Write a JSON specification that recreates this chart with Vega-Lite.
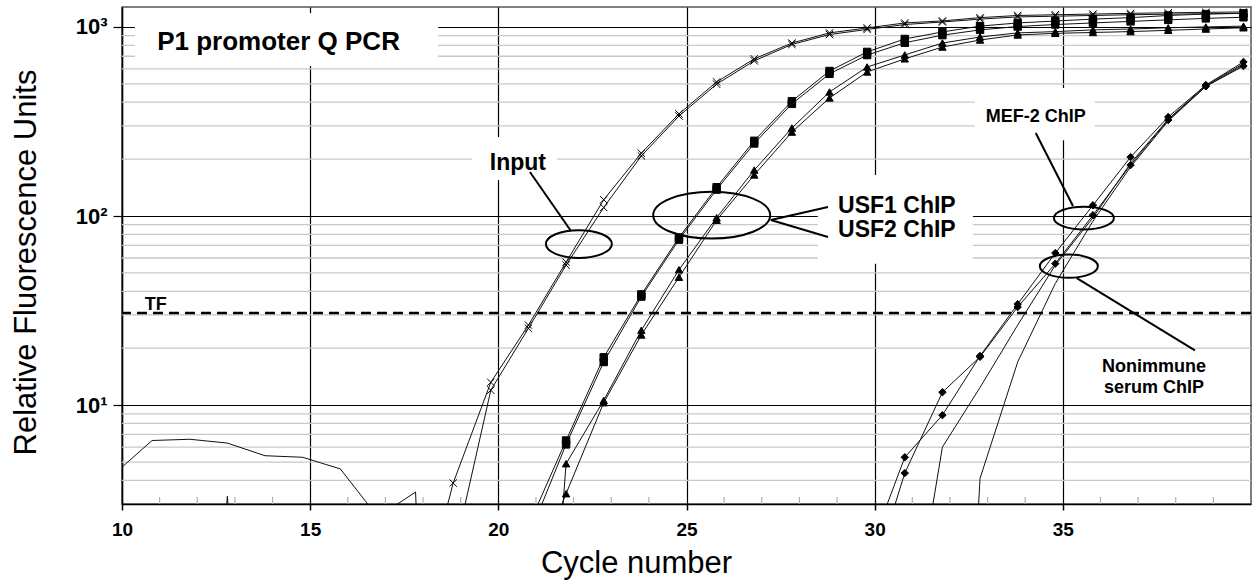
{
  "$schema": "https://vega.github.io/schema/vega-lite/v6.json",
  "width": 1129,
  "height": 497,
  "autosize": {"type": "none"},
  "padding": {"left": 122, "top": 7, "right": 1, "bottom": 78},
  "config": {
    "font": "Liberation Sans",
    "view": {"stroke": "#555", "strokeWidth": 1.5}
  },
  "datasets": {
    "ygrid": [{"v":4},{"v":5},{"v":6},{"v":7},{"v":8},{"v":9},{"v":20},{"v":30},{"v":40},{"v":50},{"v":60},{"v":70},{"v":80},{"v":90},{"v":200},{"v":300},{"v":400},{"v":500},{"v":600},{"v":700},{"v":800},{"v":900}],
    "xminor": [{"c":11},{"c":12},{"c":13},{"c":14},{"c":16},{"c":17},{"c":18},{"c":19},{"c":21},{"c":22},{"c":23},{"c":24},{"c":26},{"c":27},{"c":28},{"c":29},{"c":31},{"c":32},{"c":33},{"c":34},{"c":36},{"c":37},{"c":38},{"c":39}],
    "boxes": [{"x":10.345,"x2":18.4,"y":622,"y2":1186},{"x":19.3,"x2":21.56,"y":155,"y2":262},{"x":28.49,"x2":32.61,"y":56,"y2":165},{"x":32.66,"x2":35.85,"y":252,"y2":475}],
    "tf": [{"v": 30.7}],
    "curves": [
      {"s":"Input","r":"a","c":17.8,"v":0.66},{"s":"Input","r":"a","c":18.8,"v":3.87},{"s":"Input","r":"a","c":19.8,"v":13.2},{"s":"Input","r":"a","c":20.8,"v":26.5},{"s":"Input","r":"a","c":21.8,"v":57},{"s":"Input","r":"a","c":22.8,"v":122},{"s":"Input","r":"a","c":23.8,"v":215},{"s":"Input","r":"a","c":24.8,"v":347},{"s":"Input","r":"a","c":25.8,"v":512},{"s":"Input","r":"a","c":26.8,"v":678},{"s":"Input","r":"a","c":27.8,"v":822},{"s":"Input","r":"a","c":28.8,"v":930},{"s":"Input","r":"a","c":29.8,"v":988},{"s":"Input","r":"a","c":30.8,"v":1050},{"s":"Input","r":"a","c":31.8,"v":1076},{"s":"Input","r":"a","c":32.8,"v":1120},{"s":"Input","r":"a","c":33.8,"v":1150},{"s":"Input","r":"a","c":34.8,"v":1160},{"s":"Input","r":"a","c":35.8,"v":1170},{"s":"Input","r":"a","c":36.8,"v":1180},{"s":"Input","r":"a","c":37.8,"v":1188},{"s":"Input","r":"a","c":38.8,"v":1195},{"s":"Input","r":"a","c":39.8,"v":1200},
      {"s":"Input","r":"b","c":17.8,"v":0.3},{"s":"Input","r":"b","c":18.8,"v":1.57},{"s":"Input","r":"b","c":19.8,"v":12.0},{"s":"Input","r":"b","c":20.8,"v":25.5},{"s":"Input","r":"b","c":21.8,"v":55},{"s":"Input","r":"b","c":22.8,"v":111},{"s":"Input","r":"b","c":23.8,"v":208},{"s":"Input","r":"b","c":24.8,"v":338},{"s":"Input","r":"b","c":25.8,"v":498},{"s":"Input","r":"b","c":26.8,"v":662},{"s":"Input","r":"b","c":27.8,"v":808},{"s":"Input","r":"b","c":28.8,"v":912},{"s":"Input","r":"b","c":29.8,"v":970},{"s":"Input","r":"b","c":30.8,"v":1030},{"s":"Input","r":"b","c":31.8,"v":1062},{"s":"Input","r":"b","c":32.8,"v":1100},{"s":"Input","r":"b","c":33.8,"v":1130},{"s":"Input","r":"b","c":34.8,"v":1140},{"s":"Input","r":"b","c":35.8,"v":1150},{"s":"Input","r":"b","c":36.8,"v":1160},{"s":"Input","r":"b","c":37.8,"v":1168},{"s":"Input","r":"b","c":38.8,"v":1175},{"s":"Input","r":"b","c":39.8,"v":1180},
      {"s":"USF1","r":"a","c":20.8,"v":2.3},{"s":"USF1","r":"a","c":21.8,"v":6.5},{"s":"USF1","r":"a","c":22.8,"v":17.9},{"s":"USF1","r":"a","c":23.8,"v":38.5},{"s":"USF1","r":"a","c":24.8,"v":77},{"s":"USF1","r":"a","c":25.8,"v":142},{"s":"USF1","r":"a","c":26.8,"v":250},{"s":"USF1","r":"a","c":27.8,"v":405},{"s":"USF1","r":"a","c":28.8,"v":585},{"s":"USF1","r":"a","c":29.8,"v":738},{"s":"USF1","r":"a","c":30.8,"v":864},{"s":"USF1","r":"a","c":31.8,"v":941},{"s":"USF1","r":"a","c":32.8,"v":1010},{"s":"USF1","r":"a","c":33.8,"v":1050},{"s":"USF1","r":"a","c":34.8,"v":1075},{"s":"USF1","r":"a","c":35.8,"v":1100},{"s":"USF1","r":"a","c":36.8,"v":1120},{"s":"USF1","r":"a","c":37.8,"v":1150},{"s":"USF1","r":"a","c":38.8,"v":1170},{"s":"USF1","r":"a","c":39.8,"v":1180},
      {"s":"USF1","r":"b","c":20.8,"v":2.0},{"s":"USF1","r":"b","c":21.8,"v":6.2},{"s":"USF1","r":"b","c":22.8,"v":16.9},{"s":"USF1","r":"b","c":23.8,"v":37.5},{"s":"USF1","r":"b","c":24.8,"v":75},{"s":"USF1","r":"b","c":25.8,"v":138},{"s":"USF1","r":"b","c":26.8,"v":242},{"s":"USF1","r":"b","c":27.8,"v":392},{"s":"USF1","r":"b","c":28.8,"v":565},{"s":"USF1","r":"b","c":29.8,"v":710},{"s":"USF1","r":"b","c":30.8,"v":825},{"s":"USF1","r":"b","c":31.8,"v":905},{"s":"USF1","r":"b","c":32.8,"v":965},{"s":"USF1","r":"b","c":33.8,"v":1005},{"s":"USF1","r":"b","c":34.8,"v":1030},{"s":"USF1","r":"b","c":35.8,"v":1050},{"s":"USF1","r":"b","c":36.8,"v":1070},{"s":"USF1","r":"b","c":37.8,"v":1090},{"s":"USF1","r":"b","c":38.8,"v":1110},{"s":"USF1","r":"b","c":39.8,"v":1125},
      {"s":"USF2","r":"a","c":20.8,"v":0.01},{"s":"USF2","r":"a","c":21.8,"v":4.9},{"s":"USF2","r":"a","c":22.8,"v":10.6},{"s":"USF2","r":"a","c":23.8,"v":24.9},{"s":"USF2","r":"a","c":24.8,"v":52},{"s":"USF2","r":"a","c":25.8,"v":98},{"s":"USF2","r":"a","c":26.8,"v":175},{"s":"USF2","r":"a","c":27.8,"v":292},{"s":"USF2","r":"a","c":28.8,"v":453},{"s":"USF2","r":"a","c":29.8,"v":614},{"s":"USF2","r":"a","c":30.8,"v":711},{"s":"USF2","r":"a","c":31.8,"v":822},{"s":"USF2","r":"a","c":32.8,"v":885},{"s":"USF2","r":"a","c":33.8,"v":930},{"s":"USF2","r":"a","c":34.8,"v":945},{"s":"USF2","r":"a","c":35.8,"v":965},{"s":"USF2","r":"a","c":36.8,"v":975},{"s":"USF2","r":"a","c":37.8,"v":990},{"s":"USF2","r":"a","c":38.8,"v":1000},{"s":"USF2","r":"a","c":39.8,"v":1010},
      {"s":"USF2","r":"b","c":20.8,"v":1.1},{"s":"USF2","r":"b","c":21.8,"v":3.4},{"s":"USF2","r":"b","c":22.8,"v":10.3},{"s":"USF2","r":"b","c":23.8,"v":23.5},{"s":"USF2","r":"b","c":24.8,"v":47.5},{"s":"USF2","r":"b","c":25.8,"v":95},{"s":"USF2","r":"b","c":26.8,"v":165},{"s":"USF2","r":"b","c":27.8,"v":278},{"s":"USF2","r":"b","c":28.8,"v":421},{"s":"USF2","r":"b","c":29.8,"v":578},{"s":"USF2","r":"b","c":30.8,"v":678},{"s":"USF2","r":"b","c":31.8,"v":783},{"s":"USF2","r":"b","c":32.8,"v":853},{"s":"USF2","r":"b","c":33.8,"v":907},{"s":"USF2","r":"b","c":34.8,"v":925},{"s":"USF2","r":"b","c":35.8,"v":935},{"s":"USF2","r":"b","c":36.8,"v":945},{"s":"USF2","r":"b","c":37.8,"v":960},{"s":"USF2","r":"b","c":38.8,"v":975},{"s":"USF2","r":"b","c":39.8,"v":990},
      {"s":"MEF2","r":"a","c":29.8,"v":1.56},{"s":"MEF2","r":"a","c":30.8,"v":5.3},{"s":"MEF2","r":"a","c":31.8,"v":8.85},{"s":"MEF2","r":"a","c":32.8,"v":18.2},{"s":"MEF2","r":"a","c":33.8,"v":34.2},{"s":"MEF2","r":"a","c":34.8,"v":63.7},{"s":"MEF2","r":"a","c":35.8,"v":114},{"s":"MEF2","r":"a","c":36.8,"v":205},{"s":"MEF2","r":"a","c":37.8,"v":334},{"s":"MEF2","r":"a","c":38.8,"v":493},{"s":"MEF2","r":"a","c":39.8,"v":653},
      {"s":"MEF2","r":"b","c":29.8,"v":1.0},{"s":"MEF2","r":"b","c":30.8,"v":4.37},{"s":"MEF2","r":"b","c":31.8,"v":11.7},{"s":"MEF2","r":"b","c":32.8,"v":18.0},{"s":"MEF2","r":"b","c":33.8,"v":33},{"s":"MEF2","r":"b","c":34.8,"v":56},{"s":"MEF2","r":"b","c":35.8,"v":101},{"s":"MEF2","r":"b","c":36.8,"v":186},{"s":"MEF2","r":"b","c":37.8,"v":322},{"s":"MEF2","r":"b","c":38.8,"v":485},{"s":"MEF2","r":"b","c":39.8,"v":621},
      {"s":"Nonimmune","r":"a","c":30.8,"v":0.38},{"s":"Nonimmune","r":"a","c":31.8,"v":6.0},{"s":"Nonimmune","r":"a","c":32.8,"v":12.4},{"s":"Nonimmune","r":"a","c":33.8,"v":26.5},{"s":"Nonimmune","r":"a","c":34.8,"v":55},{"s":"Nonimmune","r":"a","c":35.8,"v":98},{"s":"Nonimmune","r":"a","c":36.8,"v":190},{"s":"Nonimmune","r":"a","c":37.8,"v":325},{"s":"Nonimmune","r":"a","c":38.8,"v":490},{"s":"Nonimmune","r":"a","c":39.8,"v":640},
      {"s":"Nonimmune","r":"b","c":31.8,"v":0.001},{"s":"Nonimmune","r":"b","c":32.8,"v":4.1},{"s":"Nonimmune","r":"b","c":33.8,"v":16.9},{"s":"Nonimmune","r":"b","c":34.8,"v":44},{"s":"Nonimmune","r":"b","c":35.8,"v":94},{"s":"Nonimmune","r":"b","c":36.8,"v":182},{"s":"Nonimmune","r":"b","c":37.8,"v":318},{"s":"Nonimmune","r":"b","c":38.8,"v":485},{"s":"Nonimmune","r":"b","c":39.8,"v":630},
      {"s":"Noise","r":"a","c":10,"v":4.7},{"s":"Noise","r":"a","c":10.8,"v":6.5},{"s":"Noise","r":"a","c":11.8,"v":6.6},{"s":"Noise","r":"a","c":12.8,"v":6.3},{"s":"Noise","r":"a","c":13.8,"v":5.4},{"s":"Noise","r":"a","c":14.8,"v":5.3},{"s":"Noise","r":"a","c":15.8,"v":4.6},{"s":"Noise","r":"a","c":16.8,"v":2.56},{"s":"Noise","r":"a","c":17.8,"v":3.47},{"s":"Noise","r":"a","c":18.8,"v":0.0001},
      {"s":"Noise","r":"b","c":11.8,"v":0.01},{"s":"Noise","r":"b","c":12.8,"v":3.3},{"s":"Noise","r":"b","c":13.8,"v":0.01}
    ],
    "ellipses": [{"e":"Input","x":22.14,"y":71.1},{"e":"USF","x":25.67,"y":101},{"e":"MEF","x":35.56,"y":97.6},{"e":"Non","x":35.16,"y":54.3}],
    "links": [{"x":20.84,"y":171,"x2":21.93,"y2":83.3},{"x":27.24,"y":95.3,"x2":28.76,"y2":111.7},{"x":27.24,"y":95.3,"x2":28.76,"y2":77.4},{"x":34.28,"y":275,"x2":35.27,"y2":113},{"x":35.37,"y":47,"x2":38.51,"y2":19.5}],
    "texts": [
      {"k":"title","t":"P1 promoter Q PCR","x":14.16,"y":755},
      {"k":"big","t":"Input","x":20.52,"y":175},
      {"k":"big","t":"USF1 ChIP","x":30.59,"y":104},
      {"k":"big","t":"USF2 ChIP","x":30.59,"y":77.4},
      {"k":"small","t":"MEF-2 ChIP","x":34.28,"y":314},
      {"k":"small","t":"Nonimmune","x":37.42,"y":14.96},
      {"k":"small","t":"serum ChIP","x":37.42,"y":11.56},
      {"k":"small","t":"TF","x":10.9,"y":31.8}
    ]
  },
  "layer": [
    {
      "data": {"name": "ygrid"},
      "mark": {"type": "rule", "stroke": "#c8c8c8", "strokeWidth": 1.3},
      "encoding": {
        "y": {"field": "v", "type": "quantitative",
          "scale": {"type": "log", "domain": [3, 1275], "nice": false},
          "axis": {
            "values": [10, 100, 1000],
            "grid": true, "gridColor": "#000", "gridWidth": 1.2,
            "tickSize": 9, "tickColor": "#000", "tickWidth": 1.2,
            "domainColor": "#000", "domainWidth": 1.5,
            "labelFont": "Liberation Sans", "labelFontSize": 22, "labelFontWeight": "bold", "labelColor": "#000", "labelPadding": 6,
            "labelExpr": "datum.value == 10 ? '10¹' : datum.value == 100 ? '10²' : '10³'",
            "title": "Relative Fluorescence Units",
            "titleFont": "Liberation Sans", "titleFontSize": 31, "titleFontWeight": "normal", "titleColor": "#000",
            "titleAngle": -90, "titleBaseline": "alphabetic", "titleAlign": "center",
            "titleX": -87, "titleY": 255
          }
        }
      }
    },
    {
      "data": {"name": "xminor"},
      "mark": {"type": "rule", "stroke": "#b0b0b0", "strokeWidth": 1.2},
      "encoding": {
        "x": {"field": "c", "type": "quantitative",
          "scale": {"type": "linear", "domain": [10, 40], "nice": false, "zero": false},
          "axis": {
            "values": [10, 15, 20, 25, 30, 35],
            "grid": true, "gridColor": "#000", "gridWidth": 1.2,
            "tickSize": 6, "tickColor": "#000", "tickWidth": 1.5,
            "domainColor": "#000", "domainWidth": 1.5,
            "labelFont": "Liberation Sans", "labelFontSize": 19, "labelFontWeight": "bold", "labelColor": "#000",
            "labelPadding": 10, "labelFlush": false,
            "title": "Cycle number",
            "titleFont": "Liberation Sans", "titleFontSize": 31, "titleFontWeight": "normal", "titleColor": "#000",
            "titleBaseline": "alphabetic", "titleAlign": "center",
            "titleX": 514, "titleY": 68
          }
        },
        "y": {"datum": 3, "type": "quantitative", "scale": {"type": "log", "domain": [3, 1275], "nice": false}},
        "y2": {"datum": 3.27}
      }
    },
    {
      "data": {"name": "boxes"},
      "mark": {"type": "rect", "fill": "#ffffff", "stroke": null},
      "encoding": {
        "x": {"field": "x", "type": "quantitative", "scale": {"type": "linear", "domain": [10, 40], "nice": false, "zero": false}},
        "x2": {"field": "x2"},
        "y": {"field": "y", "type": "quantitative", "scale": {"type": "log", "domain": [3, 1275], "nice": false}},
        "y2": {"field": "y2"}
      }
    },
    {
      "data": {"name": "tf"},
      "mark": {"type": "rule", "stroke": "#000", "strokeWidth": 2.5, "strokeDash": [10, 6]},
      "encoding": {
        "y": {"field": "v", "type": "quantitative", "scale": {"type": "log", "domain": [3, 1275], "nice": false}}
      }
    },
    {
      "data": {"name": "curves"},
      "mark": {"type": "line", "stroke": "#111", "strokeWidth": 1, "clip": true},
      "encoding": {
        "x": {"field": "c", "type": "quantitative", "scale": {"type": "linear", "domain": [10, 40], "nice": false, "zero": false}},
        "y": {"field": "v", "type": "quantitative", "scale": {"type": "log", "domain": [3, 1275], "nice": false}},
        "detail": [{"field": "s", "type": "nominal"}, {"field": "r", "type": "nominal"}],
        "order": {"field": "c", "type": "quantitative"}
      }
    },
    {
      "data": {"name": "curves"},
      "transform": [{"filter": "datum.s != 'Nonimmune' && datum.s != 'Noise'"}],
      "mark": {"type": "point", "filled": true, "fill": "#000", "stroke": "#000", "strokeWidth": 1, "opacity": 1, "size": 55, "clip": true},
      "encoding": {
        "x": {"field": "c", "type": "quantitative", "scale": {"type": "linear", "domain": [10, 40], "nice": false, "zero": false}},
        "y": {"field": "v", "type": "quantitative", "scale": {"type": "log", "domain": [3, 1275], "nice": false}},
        "shape": {"field": "s", "type": "nominal", "legend": null,
          "scale": {"domain": ["Input", "USF1", "USF2", "MEF2"], "range": ["M-1,-1L1,1M-1,1L1,-1", "square", "triangle-up", "diamond"]}}
      }
    },
    {
      "data": {"name": "ellipses"},
      "transform": [{"filter": "datum.e == 'Input'"}],
      "mark": {"type": "point", "shape": "M-1,0C-1,-0.23,-0.552,-0.42,0,-0.42C0.552,-0.42,1,-0.23,1,0C1,0.23,0.552,0.42,0,0.42C-0.552,0.42,-1,0.23,-1,0Z", "size": 4356, "filled": false, "stroke": "#000", "strokeWidth": 2, "opacity": 1},
      "encoding": {
        "x": {"field": "x", "type": "quantitative", "scale": {"type": "linear", "domain": [10, 40], "nice": false, "zero": false}},
        "y": {"field": "y", "type": "quantitative", "scale": {"type": "log", "domain": [3, 1275], "nice": false}}
      }
    },
    {
      "data": {"name": "ellipses"},
      "transform": [{"filter": "datum.e == 'USF'"}],
      "mark": {"type": "point", "shape": "M-1,0C-1,-0.221,-0.552,-0.4,0,-0.4C0.552,-0.4,1,-0.221,1,0C1,0.221,0.552,0.4,0,0.4C-0.552,0.4,-1,0.221,-1,0Z", "size": 13689, "filled": false, "stroke": "#000", "strokeWidth": 2, "opacity": 1},
      "encoding": {
        "x": {"field": "x", "type": "quantitative", "scale": {"type": "linear", "domain": [10, 40], "nice": false, "zero": false}},
        "y": {"field": "y", "type": "quantitative", "scale": {"type": "log", "domain": [3, 1275], "nice": false}}
      }
    },
    {
      "data": {"name": "ellipses"},
      "transform": [{"filter": "datum.e == 'MEF'"}],
      "mark": {"type": "point", "shape": "M-1,0C-1,-0.21,-0.552,-0.38,0,-0.38C0.552,-0.38,1,-0.21,1,0C1,0.21,0.552,0.38,0,0.38C-0.552,0.38,-1,0.21,-1,0Z", "size": 3600, "filled": false, "stroke": "#000", "strokeWidth": 2, "opacity": 1},
      "encoding": {
        "x": {"field": "x", "type": "quantitative", "scale": {"type": "linear", "domain": [10, 40], "nice": false, "zero": false}},
        "y": {"field": "y", "type": "quantitative", "scale": {"type": "log", "domain": [3, 1275], "nice": false}}
      }
    },
    {
      "data": {"name": "ellipses"},
      "transform": [{"filter": "datum.e == 'Non'"}],
      "mark": {"type": "point", "shape": "M-1,0C-1,-0.22,-0.552,-0.4,0,-0.4C0.552,-0.4,1,-0.22,1,0C1,0.22,0.552,0.4,0,0.4C-0.552,0.4,-1,0.22,-1,0Z", "size": 3364, "filled": false, "stroke": "#000", "strokeWidth": 2, "opacity": 1},
      "encoding": {
        "x": {"field": "x", "type": "quantitative", "scale": {"type": "linear", "domain": [10, 40], "nice": false, "zero": false}},
        "y": {"field": "y", "type": "quantitative", "scale": {"type": "log", "domain": [3, 1275], "nice": false}}
      }
    },
    {
      "data": {"name": "links"},
      "mark": {"type": "rule", "stroke": "#000", "strokeWidth": 2},
      "encoding": {
        "x": {"field": "x", "type": "quantitative", "scale": {"type": "linear", "domain": [10, 40], "nice": false, "zero": false}},
        "x2": {"field": "x2"},
        "y": {"field": "y", "type": "quantitative", "scale": {"type": "log", "domain": [3, 1275], "nice": false}},
        "y2": {"field": "y2"}
      }
    },
    {
      "data": {"name": "texts"},
      "transform": [{"filter": "datum.k == 'title'"}],
      "mark": {"type": "text", "font": "Liberation Sans", "fontSize": 26, "fontWeight": "bold", "fill": "#000", "align": "center", "baseline": "alphabetic"},
      "encoding": {
        "x": {"field": "x", "type": "quantitative", "scale": {"type": "linear", "domain": [10, 40], "nice": false, "zero": false}},
        "y": {"field": "y", "type": "quantitative", "scale": {"type": "log", "domain": [3, 1275], "nice": false}},
        "text": {"field": "t"}
      }
    },
    {
      "data": {"name": "texts"},
      "transform": [{"filter": "datum.k == 'big'"}],
      "mark": {"type": "text", "font": "Liberation Sans", "fontSize": 23, "fontWeight": "bold", "fill": "#000", "align": "center", "baseline": "alphabetic"},
      "encoding": {
        "x": {"field": "x", "type": "quantitative", "scale": {"type": "linear", "domain": [10, 40], "nice": false, "zero": false}},
        "y": {"field": "y", "type": "quantitative", "scale": {"type": "log", "domain": [3, 1275], "nice": false}},
        "text": {"field": "t"}
      }
    },
    {
      "data": {"name": "texts"},
      "transform": [{"filter": "datum.k == 'small'"}],
      "mark": {"type": "text", "font": "Liberation Sans", "fontSize": 18, "fontWeight": "bold", "fill": "#000", "align": "center", "baseline": "alphabetic"},
      "encoding": {
        "x": {"field": "x", "type": "quantitative", "scale": {"type": "linear", "domain": [10, 40], "nice": false, "zero": false}},
        "y": {"field": "y", "type": "quantitative", "scale": {"type": "log", "domain": [3, 1275], "nice": false}},
        "text": {"field": "t"}
      }
    }
  ]
}
